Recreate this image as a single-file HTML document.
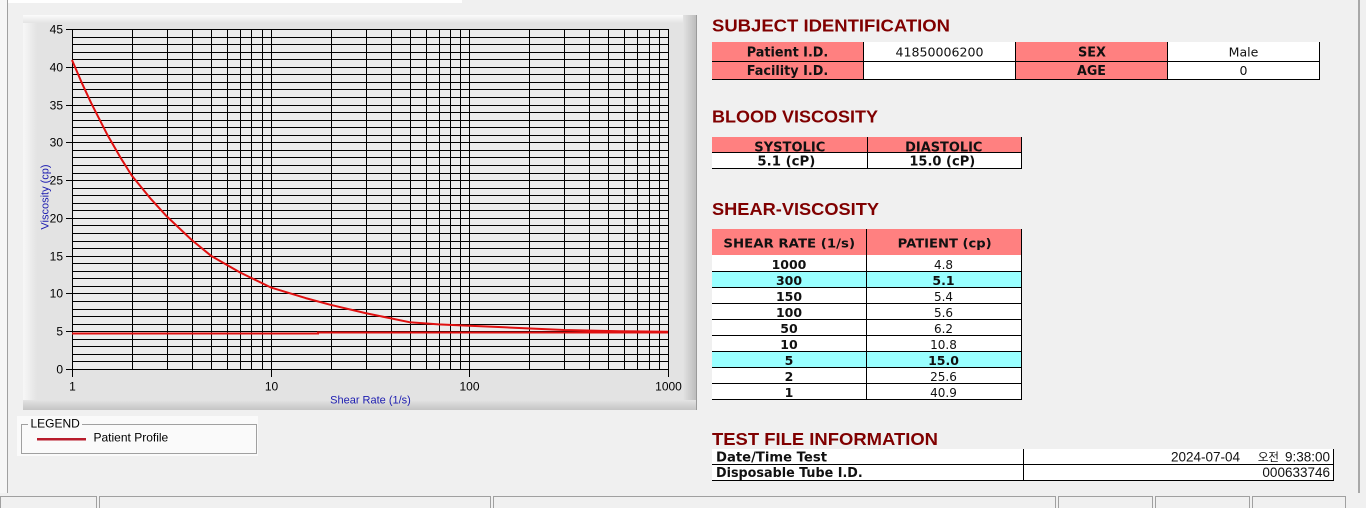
<!DOCTYPE html>
<html><head><meta charset="utf-8"><style>
html,body{margin:0;padding:0;background:#f0f0f0;width:1366px;height:508px;overflow:hidden}
svg{display:block}
.ax{font-family:"Liberation Sans",Arial,sans-serif;font-size:12px;fill:#000}
.ti{font-family:"Liberation Sans",Arial,sans-serif;font-weight:bold;font-size:17.5px;fill:#800000}
.tb{font-family:"DejaVu Sans","Liberation Sans",sans-serif;font-weight:bold;font-size:13px;fill:#111}
.tr{font-family:"DejaVu Sans","Liberation Sans",sans-serif;font-size:12.5px;fill:#111}
.rb{font-family:"DejaVu Sans","Liberation Sans",sans-serif;font-weight:bold;font-size:12.5px;fill:#111}
.rr{font-family:"DejaVu Sans","Liberation Sans",sans-serif;font-size:12px;fill:#111}
.lv{font-family:"Liberation Sans","Noto Sans CJK KR",sans-serif;font-size:13.5px;fill:#111}
</style></head><body>
<svg width="1366" height="508" viewBox="0 0 1366 508" xmlns="http://www.w3.org/2000/svg">
<defs>
<linearGradient id="gl" x1="0" x2="1" y1="0" y2="0"><stop offset="0" stop-color="#f7f7f7"/><stop offset="1" stop-color="#e3e3e3"/></linearGradient>
<linearGradient id="gr" x1="0" x2="1" y1="0" y2="0"><stop offset="0" stop-color="#e3e3e3"/><stop offset="1" stop-color="#b9b9b9"/></linearGradient>
<linearGradient id="gt" x1="0" x2="0" y1="0" y2="1"><stop offset="0" stop-color="#fbfbfb"/><stop offset="1" stop-color="#e3e3e3"/></linearGradient>
<linearGradient id="gb" x1="0" x2="0" y1="0" y2="1"><stop offset="0" stop-color="#e3e3e3"/><stop offset="1" stop-color="#c4c4c4"/></linearGradient>
</defs>
<rect x="0" y="0" width="1366" height="508" fill="#f0f0f0"/>
<rect x="0" y="0" width="462" height="3" fill="#ffffff"/>
<rect x="0" y="0" width="7" height="493" fill="#f6f6f6"/>
<rect x="7" y="0" width="1" height="493" fill="#a0a0a0"/>
<rect x="1358" y="0" width="2" height="493" fill="#a8a8a8"/>

<!-- chart panel -->
<rect x="23" y="15" width="674" height="395" fill="#e3e3e3"/>
<rect x="23" y="15" width="14" height="395" fill="url(#gl)"/>
<rect x="23" y="15" width="674" height="8" fill="url(#gt)"/>
<rect x="683" y="15" width="14" height="395" fill="url(#gr)"/>
<rect x="23" y="400" width="674" height="10" fill="url(#gb)"/>
<rect x="696" y="15" width="1" height="395" fill="#9a9a9a"/>
<rect x="72" y="29" width="596" height="340" fill="#ececec"/>

<path d="M72 29.5H668M72 37.5H668M72 44.5H668M72 52.5H668M72 59.5H668M72 67.5H668M72 74.5H668M72 82.5H668M72 89.5H668M72 97.5H668M72 105.5H668M72 112.5H668M72 120.5H668M72 127.5H668M72 135.5H668M72 142.5H668M72 150.5H668M72 157.5H668M72 165.5H668M72 173.5H668M72 180.5H668M72 188.5H668M72 195.5H668M72 203.5H668M72 210.5H668M72 218.5H668M72 225.5H668M72 233.5H668M72 241.5H668M72 248.5H668M72 256.5H668M72 263.5H668M72 271.5H668M72 278.5H668M72 286.5H668M72 293.5H668M72 301.5H668M72 309.5H668M72 316.5H668M72 324.5H668M72 331.5H668M72 339.5H668M72 346.5H668M72 354.5H668M72 361.5H668M72 369.5H668" stroke="#000" stroke-width="1" fill="none"/>
<path d="M72.5 29V370M132.5 29V370M167.5 29V370M192.5 29V370M211.5 29V370M227.5 29V370M240.5 29V370M251.5 29V370M262.5 29V370M271.5 29V370M331.5 29V370M366.5 29V370M391.5 29V370M410.5 29V370M426.5 29V370M439.5 29V370M450.5 29V370M460.5 29V370M469.5 29V370M529.5 29V370M564.5 29V370M589.5 29V370M608.5 29V370M624.5 29V370M637.5 29V370M649.5 29V370M659.5 29V370M668.5 29V370" stroke="#000" stroke-width="1" fill="none"/>
<!-- ticks -->
<path d="M66 29.5H72M66 67.5H72M66 105.5H72M66 142.5H72M66 180.5H72M66 218.5H72M66 256.5H72M66 293.5H72M66 331.5H72M66 369.5H72M72.5 369V377M271.5 369V377M469.5 369V377M668.5 369V377" stroke="#000" stroke-width="1"/>
<g class="ax" text-anchor="end">
<text x="63" y="33.5">45</text><text x="63" y="71.5">40</text><text x="63" y="109.5">35</text><text x="63" y="146.5">30</text><text x="63" y="184.5">25</text><text x="63" y="222.5">20</text><text x="63" y="260.5">15</text><text x="63" y="297.5">10</text><text x="63" y="335.5">5</text><text x="63" y="373.5">0</text>
</g>
<g class="ax" text-anchor="middle">
<text x="72.5" y="390.5">1</text><text x="271.5" y="390.5">10</text><text x="469.5" y="390.5">100</text><text x="668.5" y="390.5">1000</text>
<text x="370.5" y="403.5" style="fill:#1c1cb0;font-size:11px">Shear Rate (1/s)</text>
<text x="48.5" y="197" transform="rotate(-90 48.5 197)" style="fill:#1c1cb0;font-size:11px">Viscosity (cp)</text>
</g>
<!-- series -->
<path d="M72 333.5H318V332.5H668" stroke="#e01010" stroke-width="2" fill="none"/>
<polyline points="72,60 81.6,82.4 91.3,103.3 107,134.1 120.3,157.3 131.8,175.6 151.1,199.2 166.8,216.4 191.6,239.9 210.9,255.7 239.9,272.4 270.7,287.4 305.7,298.1 330.5,304.8 365.5,313.1 409.5,322.2 438.6,324.4 469.3,325.8 504.3,327.3 564.1,330 620,331.2 668,331.8" stroke="#e01010" stroke-width="2" fill="none" stroke-linejoin="round"/>

<!-- legend -->
<rect x="17" y="416" width="241" height="40" fill="#fafafa"/>
<path d="M28 424.5H21.5V453.5H256.5V424.5H82" stroke="#a0a0a0" stroke-width="1" fill="none"/>
<text x="30.5" y="427.5" style="font-family:'Liberation Sans',Arial,sans-serif;font-size:12px;fill:#000">LEGEND</text>
<rect x="37" y="438" width="49" height="2.5" fill="#b81c2c"/>
<text x="93.5" y="441.5" style="font-family:'Liberation Sans',Arial,sans-serif;font-size:12px;fill:#000">Patient Profile</text>

<!-- status bar -->
<g fill="none" stroke="#a0a0a0" stroke-width="1">
<path d="M0.5 508V496.5H96.5V508"/>
<path d="M99.5 508V496.5H490.5V508"/>
<path d="M493.5 508V496.5H1055.5V508"/>
<path d="M1058.5 508V496.5H1152.5V508"/>
<path d="M1155.5 508V496.5H1249.5V508"/>
<path d="M1252.5 508V496.5H1345.5V508"/>
</g>

<!-- SUBJECT IDENTIFICATION -->
<text class="ti" x="712" y="31.5" textLength="238" lengthAdjust="spacingAndGlyphs">SUBJECT IDENTIFICATION</text>
<rect x="712" y="42" width="151" height="38" fill="#ff8080"/>
<rect x="863" y="42" width="152" height="38" fill="#ffffff"/>
<rect x="1015" y="42" width="152" height="38" fill="#ff8080"/>
<rect x="1167" y="42" width="152" height="38" fill="#ffffff"/>
<path d="M712 61.5H1320M712 79.5H1320M863.5 42V80M1015.5 42V80M1167.5 42V80M1319.5 42V80" stroke="#000" stroke-width="1"/>
<g text-anchor="middle">
<text class="tb" x="787.5" y="56.5" textLength="81.6" lengthAdjust="spacingAndGlyphs">Patient I.D.</text>
<text class="tb" x="787.5" y="75" textLength="81.6" lengthAdjust="spacingAndGlyphs">Facility I.D.</text>
<text class="tr" x="939.5" y="56.5" textLength="88" lengthAdjust="spacingAndGlyphs">41850006200</text>
<text class="tb" x="1092" y="56.5" textLength="28" lengthAdjust="spacingAndGlyphs">SEX</text>
<text class="tb" x="1091.5" y="75" textLength="29" lengthAdjust="spacingAndGlyphs">AGE</text>
<text class="tr" x="1243.5" y="56.5" textLength="29.7" lengthAdjust="spacingAndGlyphs">Male</text>
<text class="tr" x="1243.5" y="75">0</text>
</g>

<!-- BLOOD VISCOSITY -->
<text class="ti" x="712" y="122.5" textLength="166" lengthAdjust="spacingAndGlyphs">BLOOD VISCOSITY</text>
<rect x="712" y="137" width="310" height="16" fill="#ff8080"/>
<rect x="712" y="153" width="310" height="15" fill="#ffffff"/>
<path d="M712 152.5H1022M712 168.5H1022M867.5 137V169M1021.5 137V169" stroke="#000" stroke-width="1"/>
<g text-anchor="middle">
<text class="tb" x="789.8" y="151.5" textLength="71" lengthAdjust="spacingAndGlyphs">SYSTOLIC</text>
<text class="tb" x="943.8" y="151.5" textLength="77.3" lengthAdjust="spacingAndGlyphs">DIASTOLIC</text>
<text class="tb" x="786.4" y="165.5" textLength="58" lengthAdjust="spacingAndGlyphs">5.1 (cP)</text>
<text class="tb" x="942.3" y="165.5" textLength="65.9" lengthAdjust="spacingAndGlyphs">15.0 (cP)</text>
</g>

<!-- SHEAR-VISCOSITY -->
<text class="ti" x="712" y="215" textLength="167" lengthAdjust="spacingAndGlyphs">SHEAR-VISCOSITY</text>
<rect x="712" y="229" width="310" height="26" fill="#ff8080"/>
<rect x="712" y="255" width="310" height="144" fill="#ffffff"/>
<rect x="712" y="271" width="310" height="16" fill="#99ffff"/>
<rect x="712" y="351" width="310" height="16" fill="#99ffff"/>
<path d="M712 271.5H1022M712 287.5H1022M712 303.5H1022M712 319.5H1022M712 335.5H1022M712 351.5H1022M712 367.5H1022M712 383.5H1022M712 399.5H1022M866.5 229V400M1021.5 229V400" stroke="#000" stroke-width="1"/>
<g text-anchor="middle">
<text class="tb" x="789.2" y="247.5" textLength="131.7" lengthAdjust="spacingAndGlyphs" style="font-size:12px">SHEAR RATE (1/s)</text>
<text class="tb" x="944.7" y="247.5" textLength="94" lengthAdjust="spacingAndGlyphs" style="font-size:12px">PATIENT (cp)</text>
<text class="rb" x="789" y="269">1000</text><text class="rr" x="943.5" y="269">4.8</text>
<text class="rb" x="789" y="285">300</text><text class="rb" x="943.5" y="285">5.1</text>
<text class="rb" x="789" y="301">150</text><text class="rr" x="943.5" y="301">5.4</text>
<text class="rb" x="789" y="317">100</text><text class="rr" x="943.5" y="317">5.6</text>
<text class="rb" x="789" y="333">50</text><text class="rr" x="943.5" y="333">6.2</text>
<text class="rb" x="789" y="349">10</text><text class="rr" x="943.5" y="349">10.8</text>
<text class="rb" x="789" y="365">5</text><text class="rb" x="943.5" y="365">15.0</text>
<text class="rb" x="789" y="381">2</text><text class="rr" x="943.5" y="381">25.6</text>
<text class="rb" x="789" y="397">1</text><text class="rr" x="943.5" y="397">40.9</text>
</g>

<!-- TEST FILE INFORMATION -->
<text class="ti" x="712" y="445" textLength="226" lengthAdjust="spacingAndGlyphs">TEST FILE INFORMATION</text>
<rect x="712" y="449" width="622" height="31" fill="#ffffff"/>
<path d="M712 464.5H1334M712 480.5H1334M1023.5 449V481M1333.5 449V481" stroke="#000" stroke-width="1"/>
<text class="tb" x="716" y="461.5" textLength="111" lengthAdjust="spacingAndGlyphs">Date/Time Test</text>
<text class="tb" x="716" y="477" textLength="146.7" lengthAdjust="spacingAndGlyphs">Disposable Tube I.D.</text>
<g text-anchor="end">
<text class="lv" x="1240" y="461.5">2024-07-04</text>
<text class="lv" x="1279" y="461" style="font-size:11.5px">오전</text>
<text class="lv" x="1330" y="461.5">9:38:00</text>
<text class="lv" x="1330" y="477">000633746</text>
</g>
</svg>
</body></html>
